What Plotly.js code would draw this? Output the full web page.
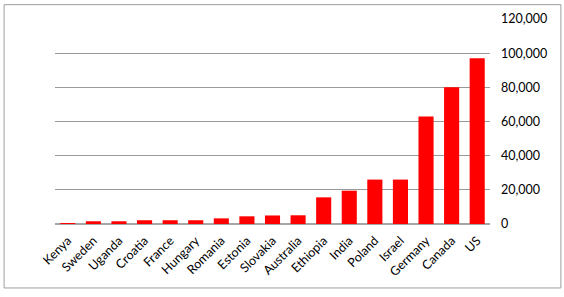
<!DOCTYPE html>
<html>
<head>
<meta charset="utf-8">
<script src="https://cdn.plot.ly/plotly-3.0.1.min.js"></script>
<style>html,body{margin:0;padding:0;background:#fff;}#chart{width:564px;height:297px;}</style>
</head>
<body>
<div id="chart"></div>
<script>
const countries = ["Kenya","Sweden","Uganda","Croatia","France","Hungary","Romania","Estonia","Slovakia","Australia","Ethiopia","India","Poland","Israel","Germany","Canada","US"];
const values = [600,1600,1600,2200,2200,2200,3300,4500,5000,5100,15600,19500,26000,26000,63000,80000,97000];
const yTicks = [0,20000,40000,60000,80000,100000,120000];
const yTickLabels = ["0","20,000","40,000","60,000","80,000","100,000","120,000"];

const trace = {
  type: 'bar',
  x: countries,
  y: values,
  marker: {color: '#ff0000'},
  hoverinfo: 'x+y'
};

const layout = {
  width: 564, height: 297,
  margin: {l: 55, r: 74, t: 19, b: 73},
  paper_bgcolor: '#ffffff',
  plot_bgcolor: '#ffffff',
  font: {family: 'Lato, "Open Sans", sans-serif', size: 12.5, color: '#000000'},
  bargap: 0.41,
  showlegend: false,
  xaxis: {
    type: 'category',
    tickangle: -45,
    showgrid: false,
    showline: false,
    zeroline: false,
    ticks: '',
    ticklabelstandoff: 6,
    tickfont: {size: 12.5}
  },
  yaxis: {
    side: 'right',
    range: [0, 120000],
    tickvals: yTicks,
    ticktext: yTickLabels,
    showgrid: true,
    gridcolor: '#9a9a9a',
    gridwidth: 1,
    zeroline: true,
    zerolinecolor: '#a6a6a6',
    zerolinewidth: 2,
    showline: false,
    ticks: '',
    ticklabelstandoff: 10,
    tickfont: {size: 12.5}
  },
  shapes: [{
    type: 'rect', xref: 'paper', yref: 'paper',
    x0: -0.117, x1: 1.163, y0: -0.312, y1: 1.07,
    line: {color: '#9e9e9e', width: 1},
    layer: 'below'
  }]
};

Plotly.newPlot('chart', [trace], layout, {displayModeBar: false, staticPlot: true});
</script>
</body>
</html>
